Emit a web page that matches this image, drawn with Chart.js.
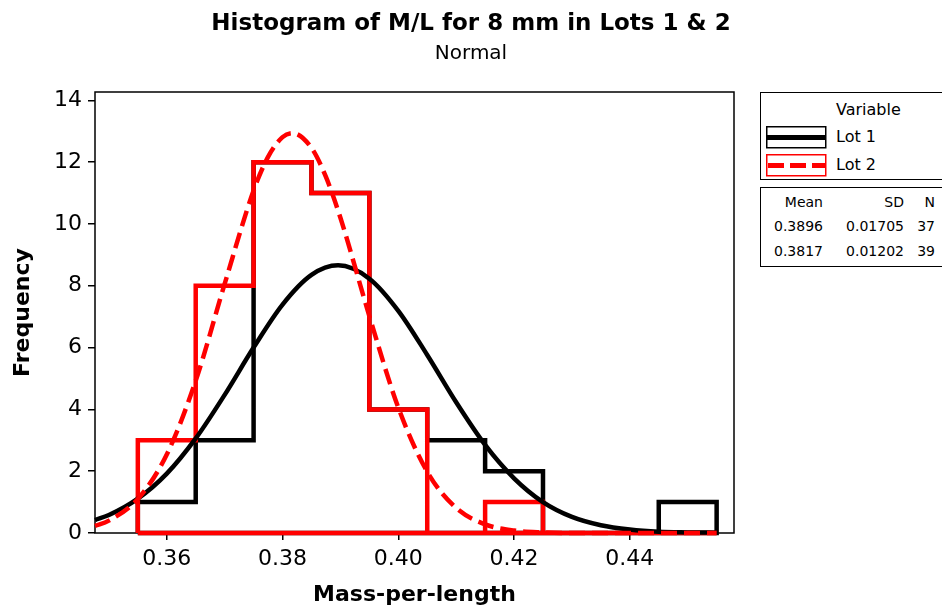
<!DOCTYPE html>
<html>
<head>
<meta charset="utf-8">
<script src="https://cdn.jsdelivr.net/npm/chart.js@4.4.1/dist/chart.umd.min.js"></script>
<style>
  body { margin: 0; background: #fff; }
  #wrap { position: relative; width: 942px; height: 611px; overflow: hidden; font-family: 'DejaVu Sans', sans-serif; color: #000; }
  canvas { position: absolute; left: 0; top: 0; }
  .abs { position: absolute; white-space: nowrap; }
  .title { left: 0; width: 942px; text-align: center; }
  .box { position: absolute; border: 1.5px solid #000; background: #fff; }
</style>
</head>
<body>
<div id="wrap">
  <canvas id="histChart" width="942" height="611"></canvas>
  <div class="abs title" style="top:11px; font-size:23px; font-weight:bold; line-height:23px;">Histogram of M/L for 8 mm in Lots 1 &amp; 2</div>
  <div class="abs title" style="top:41px; font-size:20px; line-height:22px;">Normal</div>

  <div class="box" style="left:760px; top:92px; width:200px; height:86px;"></div>
  <div class="abs" style="left:836px; top:101px; font-size:16px; line-height:18px;">Variable</div>
  <svg class="abs" style="left:766px; top:126px;" width="61" height="23">
    <rect x="0.75" y="0.75" width="59" height="21" fill="#fff" stroke="#000" stroke-width="1.5"/>
    <line x1="1" y1="11.5" x2="60" y2="11.5" stroke="#000" stroke-width="5"/>
  </svg>
  <div class="abs" style="left:836px; top:128px; font-size:16px; line-height:18px;">Lot 1</div>
  <svg class="abs" style="left:766px; top:154px;" width="61" height="23">
    <rect x="0.75" y="0.75" width="59" height="21" fill="#fff" stroke="#ff0000" stroke-width="1.5"/>
    <line x1="2" y1="11.5" x2="59" y2="11.5" stroke="#ff0000" stroke-width="5" stroke-dasharray="16 6"/>
  </svg>
  <div class="abs" style="left:836px; top:156px; font-size:16px; line-height:18px;">Lot 2</div>

  <div class="box" style="left:760px; top:187px; width:200px; height:78px;"></div>
  <div id="statsTable"></div>
</div>

<script>
// histogram bins (edges) and counts
const binEdges = [0.355, 0.365, 0.375, 0.385, 0.395, 0.405, 0.415, 0.425, 0.435, 0.445, 0.455];
const lot1Counts = [1, 3, 12, 11, 4, 3, 2, 0, 0, 1];
const lot2Counts = [3, 8, 12, 11, 4, 0, 1, 0, 0, 0];

// fitted normal curves
const lot1CurveX = [0.3476, 0.350, 0.355, 0.360, 0.365, 0.370, 0.375, 0.380, 0.385, 0.3896, 0.395, 0.400, 0.405, 0.410, 0.415, 0.420, 0.425, 0.430, 0.435, 0.440, 0.445, 0.450, 0.455];
const lot1CurveY = [0.42, 0.58, 1.11, 1.92, 3.06, 4.47, 6.00, 7.39, 8.35, 8.66, 8.23, 7.19, 5.76, 4.23, 2.85, 1.77, 1.00, 0.52, 0.25, 0.11, 0.04, 0.02, 0.01];
const lot2CurveX = [0.3476, 0.350, 0.355, 0.360, 0.365, 0.370, 0.375, 0.3775, 0.380, 0.3817, 0.385, 0.3875, 0.390, 0.395, 0.400, 0.405, 0.410, 0.415, 0.420, 0.425, 0.430, 0.435, 0.440, 0.445, 0.450, 0.455];
const lot2CurveY = [0.23, 0.40, 1.10, 2.54, 4.93, 8.06, 11.08, 12.17, 12.81, 12.94, 12.46, 11.52, 10.20, 7.02, 4.06, 1.98, 0.81, 0.28, 0.08, 0.02, 0.00, 0.00, 0.00, 0.00, 0.00, 0.00];

const xTicks = [0.36, 0.38, 0.40, 0.42, 0.44];
const yTicks = [0, 2, 4, 6, 8, 10, 12, 14];

const statHeaders = ['Mean', 'SD', 'N'];
const lot1Stats = ['0.3896', '0.01705', '37'];
const lot2Stats = ['0.3817', '0.01202', '39'];

// build the stats table text
const tableEl = document.getElementById('statsTable');
const colRight = [823, 904, 935];
const rowTop = [194, 218, 243];
[statHeaders, lot1Stats, lot2Stats].forEach((row, r) => {
    row.forEach((txt, c) => {
        const d = document.createElement('div');
        d.className = 'abs';
        d.style.cssText = `right:${942 - colRight[c]}px; top:${rowTop[r]}px; font-size:14px; line-height:17px;`;
        d.textContent = txt;
        tableEl.appendChild(d);
    });
});

function outline(counts) {
    const pts = [{ x: binEdges[0], y: 0 }];
    counts.forEach((c, i) => {
        pts.push({ x: binEdges[i], y: c }, { x: binEdges[i + 1], y: c });
    });
    pts.push({ x: binEdges[binEdges.length - 1], y: 0 }, { x: binEdges[0], y: 0 });
    return pts;
}

function curve(xs, ys) {
    return xs.map((x, i) => ({ x, y: ys[i] }));
}

const framePlugin = {
    id: 'frame',
    beforeDatasetsDraw(chart) {
        const { ctx, chartArea: a } = chart;
        ctx.save();
        ctx.strokeStyle = '#000';
        ctx.lineWidth = 1.5;
        ctx.strokeRect(a.left, a.top, a.right - a.left, a.bottom - a.top);
        ctx.restore();
    }
};

Chart.defaults.font.family = "'DejaVu Sans', sans-serif";
Chart.defaults.color = '#000';

new Chart(document.getElementById('histChart'), {
    type: 'scatter',
    data: {
        datasets: [
            {
                label: 'Lot 2 fit', data: curve(lot2CurveX, lot2CurveY), showLine: true,
                borderColor: '#ff0000', borderWidth: 4.5, borderDash: [16, 7], pointRadius: 0,
                cubicInterpolationMode: 'monotone', order: 1, clip: 6
            },
            {
                label: 'Lot 1 fit', data: curve(lot1CurveX, lot1CurveY), showLine: true,
                borderColor: '#000', borderWidth: 4.5, pointRadius: 0,
                cubicInterpolationMode: 'monotone', order: 2, clip: 6
            },
            {
                label: 'Lot 2', data: outline(lot2Counts), showLine: true,
                borderColor: '#ff0000', borderWidth: 4.5, pointRadius: 0, tension: 0,
                borderJoinStyle: 'miter', order: 3, clip: 6
            },
            {
                label: 'Lot 1', data: outline(lot1Counts), showLine: true,
                borderColor: '#000', borderWidth: 4.5, pointRadius: 0, tension: 0,
                borderJoinStyle: 'miter', order: 4, clip: 6
            }
        ]
    },
    options: {
        responsive: false,
        animation: false,
        layout: { padding: { left: 0, right: 208, top: 92, bottom: 0 } },
        plugins: { legend: { display: false }, tooltip: { enabled: false } },
        scales: {
            x: {
                type: 'linear', min: 0.3476, max: 0.458,
                afterBuildTicks: s => { s.ticks = xTicks.map(v => ({ value: v })); },
                afterFit: s => { s.height = 78; },
                ticks: { font: { size: 22 }, padding: 6, callback: v => v.toFixed(2) },
                grid: { drawOnChartArea: false, drawTicks: true, tickLength: 7, color: '#000', lineWidth: 1.5 },
                border: { display: false },
                title: { display: true, text: 'Mass-per-length', font: { size: 22, weight: 'bold' }, padding: { top: 0, bottom: 3 } }
            },
            y: {
                type: 'linear', min: 0, max: 14.27,
                afterBuildTicks: s => { s.ticks = yTicks.map(v => ({ value: v })); },
                afterFit: s => { s.width = 95; },
                ticks: { font: { size: 22 }, padding: 6 },
                grid: { drawOnChartArea: false, drawTicks: true, tickLength: 7, color: '#000', lineWidth: 1.5 },
                border: { display: false },
                title: { display: true, text: 'Frequency', font: { size: 22, weight: 'bold' }, padding: { top: 10, bottom: 0 } }
            }
        }
    },
    plugins: [framePlugin]
});
</script>
</body>
</html>
